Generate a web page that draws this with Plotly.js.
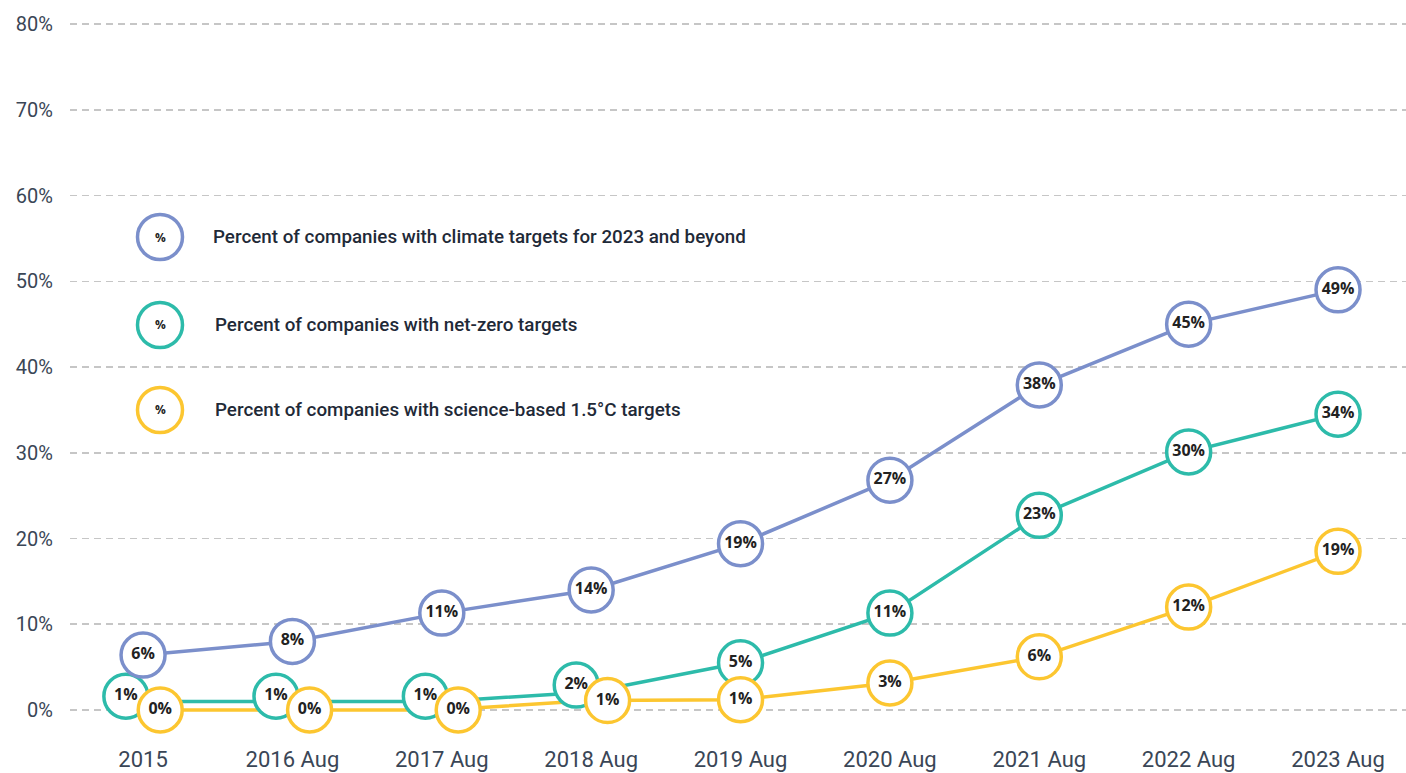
<!DOCTYPE html>
<html>
<head>
<meta charset="utf-8">
<script src="https://cdn.plot.ly/plotly-3.0.1.min.js"></script>
<style>html,body{margin:0;padding:0;background:#fff;}#chart{width:1406px;height:773px;}</style>
</head>
<body>
<div id="chart"></div>
<script>
// ---- data ----
const categories = ["2015", "2016 Aug", "2017 Aug", "2018 Aug", "2019 Aug", "2020 Aug", "2021 Aug", "2022 Aug", "2023 Aug"];
const climateTargets = [6.4, 8.0, 11.3, 14.0, 19.4, 26.8, 37.9, 45.0, 49.0];
const climateLabels = ["6%", "8%", "11%", "14%", "19%", "27%", "38%", "45%", "49%"];
const netZeroTargets = [1.0, 1.0, 1.0, 2.1, 5.5, 11.3, 22.7, 30.1, 34.5];
const netZeroLabels = ["1%", "1%", "1%", "2%", "5%", "11%", "23%", "30%", "34%"];
const scienceTargets = [0.0, 0.0, 0.0, 1.1, 1.2, 3.15, 6.2, 12.0, 18.5];
const scienceLabels = ["0%", "0%", "0%", "1%", "1%", "3%", "6%", "12%", "19%"];
const seriesNames = [
  "Percent of companies with climate targets for 2023 and beyond",
  "Percent of companies with net-zero targets",
  "Percent of companies with science-based 1.5°C targets"
];
const yTicks = [0, 10, 20, 30, 40, 50, 60, 70, 80];

// ---- style ----
const colors = ["#7b8fcb", "#2dbbaa", "#fcc630"];
// label-circle nudges (category units / percentage points) to avoid overlaps
const netZeroShiftX = [-0.115, -0.11, -0.11, -0.1, 0, 0, 0, 0, 0];
const netZeroShiftY = [0.6, 0.6, 0.6, 0.8, 0, 0, 0, 0, 0];
const scienceShiftX = [0.115, 0.115, 0.11, 0.11, 0, 0, 0, 0, 0];

const idx = categories.map((c, i) => i);
const lineTrace = (y, c) => ({
  x: idx, y: y, type: "scatter", mode: "lines",
  line: {color: c, width: 3.5}, hoverinfo: "skip", showlegend: false, cliponaxis: false
});
const markerTrace = (x, y, labels, c) => ({
  x: x, y: y, type: "scatter", mode: "markers+text", text: labels,
  textposition: "middle center",
  textfont: {family: "Open Sans", size: 16, color: "#222222", weight: 700},
  marker: {size: 44, color: "#ffffff", line: {color: c, width: 3.5}},
  hoverinfo: "skip", showlegend: false, cliponaxis: false
});

const traces = [
  lineTrace(scienceTargets, colors[2]),
  lineTrace(netZeroTargets, colors[1]),
  lineTrace(climateTargets, colors[0]),
  markerTrace(idx.map((v, i) => v + netZeroShiftX[i]), netZeroTargets.map((v, i) => v + netZeroShiftY[i]), netZeroLabels, colors[1]),
  markerTrace(idx.map((v, i) => v + scienceShiftX[i]), scienceTargets, scienceLabels, colors[2]),
  markerTrace(idx, climateTargets, climateLabels, colors[0])
];

// ---- legend (custom) ----
const plotL = 70, plotT = 14, plotW = 1336, plotH = 726;
const legendY = [237, 325, 410];
const legendTextX = [211, 213, 213];
const shapes = [], annotations = [];
legendY.forEach((py, i) => {
  const xp = (160 - plotL) / plotW, yp = 1 - (py - plotT) / plotH;
  shapes.push({type: "circle", xref: "paper", yref: "paper", xsizemode: "pixel", ysizemode: "pixel",
    xanchor: xp, yanchor: yp, x0: -22.5, x1: 22.5, y0: -22.5, y1: 22.5,
    line: {color: colors[i], width: 3.5}, fillcolor: "#ffffff"});
  annotations.push({xref: "paper", yref: "paper", x: xp, y: yp, text: "%", showarrow: false,
    xanchor: "center", yanchor: "middle", font: {family: "Open Sans", size: 12, color: "#222", weight: 700}});
  annotations.push({xref: "paper", yref: "paper", x: (legendTextX[i] - plotL) / plotW, y: yp, text: seriesNames[i],
    showarrow: false, xanchor: "left", yanchor: "middle",
    font: {family: "Roboto", size: 18.8, color: "#1f2a38", weight: 500}});
});

const layout = {
  width: 1406, height: 773,
  margin: {l: plotL, r: 0, t: plotT, b: 773 - plotT - plotH},
  paper_bgcolor: "#ffffff", plot_bgcolor: "#ffffff",
  showlegend: false,
  xaxis: {
    range: [-0.489, 8.455], tickvals: idx, ticktext: categories,
    showgrid: false, zeroline: false, showline: false,
    ticks: "", ticklabelstandoff: 4,
    tickfont: {family: "Roboto", size: 22, color: "#3a4656"}
  },
  yaxis: {
    range: [-3.5, 81.17], tickvals: yTicks, ticktext: yTicks.map(v => v + "%"),
    showgrid: true, gridcolor: "#c6c6c6", gridwidth: 1.5, griddash: "7px,5px",
    zeroline: false, showline: false,
    ticks: "outside", ticklen: 12, tickcolor: "rgba(0,0,0,0)",
    tickfont: {family: "Roboto", size: 20, color: "#3a4656"}
  },
  shapes: shapes,
  annotations: annotations
};

Plotly.newPlot("chart", traces, layout, {displayModeBar: false, staticPlot: true});
</script>
</body>
</html>
